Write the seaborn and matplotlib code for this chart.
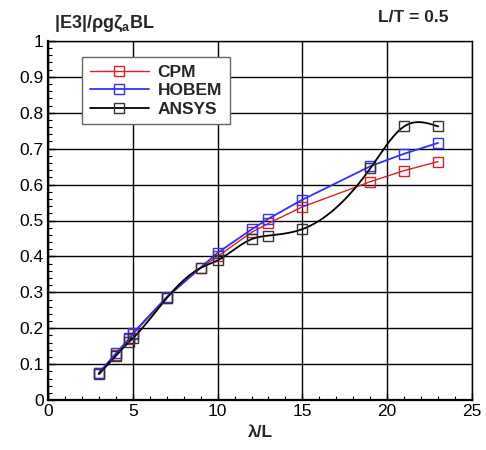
import numpy as np
import pandas as pd
import matplotlib
matplotlib.use("Agg")
import matplotlib.pyplot as plt
from matplotlib.lines import Line2D
from matplotlib.ticker import MultipleLocator, FuncFormatter
import seaborn as sns

# wavelength ratio and |E3| amplitude for each method
cpm_x = [3, 4, 4.8, 5, 7, 9, 10, 12, 13, 15, 19, 21, 23]
cpm_y = [0.074, 0.125, 0.170, 0.183, 0.285, 0.368, 0.400, 0.467, 0.492, 0.538, 0.608, 0.639, 0.664]

hobem_x = [3, 4, 4.8, 5, 7, 10, 12, 13, 15, 19, 21, 23]
hobem_y = [0.076, 0.130, 0.172, 0.186, 0.287, 0.410, 0.475, 0.505, 0.558, 0.651, 0.686, 0.716]

ansys_x = [3, 4, 4.8, 5, 7, 9, 10, 12, 13, 15, 19, 21, 23]
ansys_y = [0.072, 0.123, 0.163, 0.172, 0.284, 0.368, 0.389, 0.448, 0.458, 0.476, 0.645, 0.762, 0.762]

x_ticks = [0, 5, 10, 15, 20, 25]
y_ticks = [0, 0.1, 0.2, 0.3, 0.4, 0.5, 0.6, 0.7, 0.8, 0.9, 1.0]


def natural_spline(x, y, n=400):
    """Natural cubic spline through (x, y), evaluated on a dense grid."""
    x = np.asarray(x, float)
    y = np.asarray(y, float)
    k = len(x)
    h = np.diff(x)
    A = np.zeros((k, k))
    r = np.zeros(k)
    A[0, 0] = A[-1, -1] = 1.0
    for i in range(1, k - 1):
        A[i, i - 1] = h[i - 1]
        A[i, i] = 2 * (h[i - 1] + h[i])
        A[i, i + 1] = h[i]
        r[i] = 3 * ((y[i + 1] - y[i]) / h[i] - (y[i] - y[i - 1]) / h[i - 1])
    c = np.linalg.solve(A, r)
    b = (y[1:] - y[:-1]) / h - h * (2 * c[:-1] + c[1:]) / 3
    d = (c[1:] - c[:-1]) / (3 * h)
    xs = np.linspace(x[0], x[-1], n)
    idx = np.clip(np.searchsorted(x, xs) - 1, 0, k - 2)
    t = xs - x[idx]
    ys = y[idx] + b[idx] * t + c[idx] * t ** 2 + d[idx] * t ** 3
    return xs, ys


sns.set_theme(style="white")
plt.rcParams["font.family"] = ["Liberation Sans", "DejaVu Sans"]
plt.rcParams["mathtext.fontset"] = "custom"
plt.rcParams["mathtext.bf"] = "Liberation Sans:bold"
plt.rcParams["mathtext.rm"] = "Liberation Sans"

fig = plt.figure(figsize=(4.86, 4.5), dpi=100)
ax = fig.add_axes([0.0988, 0.111, 0.8724, 0.798])

red = "#e02020"
blue = "#3030ff"
black = "#000000"
msize = 7.5

cpm = pd.DataFrame({"x": cpm_x, "y": cpm_y})
hob = pd.DataFrame({"x": hobem_x, "y": hobem_y})
ans = pd.DataFrame({"x": ansys_x, "y": ansys_y})

sns.lineplot(data=cpm, x="x", y="y", ax=ax, color=red, lw=1.0, sort=False,
             marker="s", markersize=msize, markerfacecolor="none",
             markeredgecolor=red, markeredgewidth=1.0, zorder=3)
sns.lineplot(data=hob, x="x", y="y", ax=ax, color=blue, lw=1.3, sort=False,
             marker="s", markersize=msize, markerfacecolor="none",
             markeredgecolor=blue, markeredgewidth=1.0, zorder=4)

sx, sy = natural_spline(ansys_x, ansys_y)
sns.lineplot(x=sx, y=sy, ax=ax, color=black, lw=1.3, sort=False, zorder=5)
ax.plot(ans["x"], ans["y"], ls="none", marker="s", markersize=msize,
        markerfacecolor="none", markeredgecolor="#333333",
        markeredgewidth=1.0, zorder=5)

ax.set_xlim(0, 25)
ax.set_ylim(0, 1)
ax.set_xticks(x_ticks)
ax.set_yticks(y_ticks)
ax.xaxis.set_minor_locator(MultipleLocator(1))
ax.yaxis.set_minor_locator(MultipleLocator(0.02))
ax.yaxis.set_major_formatter(FuncFormatter(lambda v, p: f"{v:g}"))
ax.grid(True, which="major", color="black", lw=1.0)
ax.tick_params(which="both", direction="in", left=True, bottom=True,
               top=False, right=False, colors="black", labelsize=12.5,
               pad=3)
ax.tick_params(which="major", length=5, width=1)
ax.tick_params(which="minor", length=3, width=0.8)
for sp in ax.spines.values():
    sp.set_color("black")
    sp.set_linewidth(1.0)
ax.spines["left"].set_linewidth(1.6)
ax.spines["bottom"].set_linewidth(1.6)

ax.set_xlabel("λ/L", fontsize=12.5, fontweight="bold", labelpad=4)
ax.set_ylabel("")

fig.text(0.111, 0.938, r"|E3|/ρgζ$_{\mathbf{a}}$BL", fontsize=13,
         fontweight="bold", va="baseline", ha="left")
fig.text(0.922, 0.951, "L/T = 0.5", fontsize=12.5, fontweight="bold",
         va="baseline", ha="right")

handles = [
    Line2D([], [], color=red, lw=1.0, marker="s", markersize=msize,
           markerfacecolor="none", markeredgecolor=red),
    Line2D([], [], color=blue, lw=1.3, marker="s", markersize=msize,
           markerfacecolor="none", markeredgecolor=blue),
    Line2D([], [], color=black, lw=1.3, marker="s", markersize=msize,
           markerfacecolor="none", markeredgecolor="#333333"),
]
leg = ax.legend(handles, ["CPM", "HOBEM", "ANSYS"], loc="upper left",
                bbox_to_anchor=(0.08, 0.955), borderaxespad=0,
                frameon=True, fancybox=False, handlelength=3.4,
                handletextpad=0.5, labelspacing=0.18, borderpad=0.45,
                prop={"weight": "bold", "size": 12.5})
leg.get_frame().set_edgecolor("#666666")
leg.get_frame().set_linewidth(1.0)
leg.get_frame().set_facecolor("white")
leg.get_frame().set_alpha(1)
leg.set_zorder(10)

fig.savefig("out.png", dpi=100)
